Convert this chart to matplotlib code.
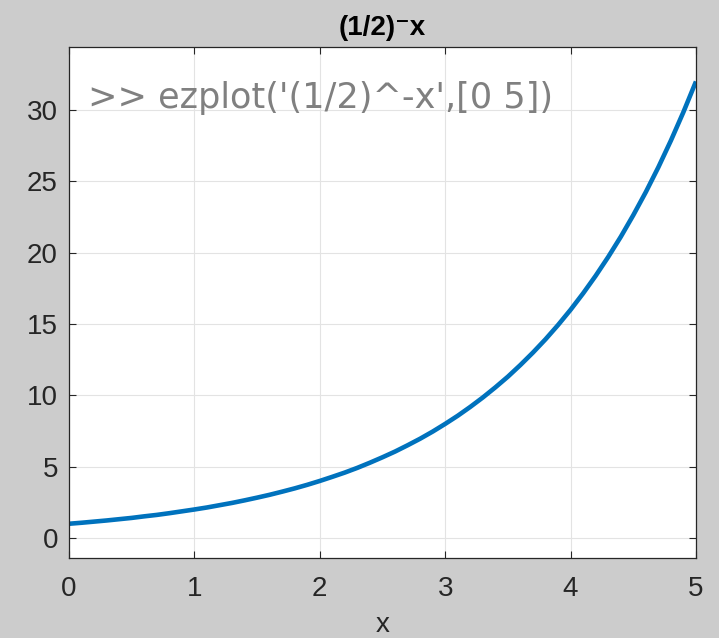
import numpy as np
import matplotlib as mpl
mpl.use('Agg')
from matplotlib import pyplot as plt

# samples of (1/2)^-x over [0 5], step 0.1
x_vals = [round(0.1 * i, 1) for i in range(51)]
y_vals = [1.00, 1.07, 1.15, 1.23, 1.32, 1.41, 1.52, 1.62, 1.74, 1.87,
          2.00, 2.14, 2.30, 2.46, 2.64, 2.83, 3.03, 3.25, 3.48, 3.73,
          4.00, 4.29, 4.59, 4.92, 5.28, 5.66, 6.06, 6.50, 6.96, 7.46,
          8.00, 8.57, 9.19, 9.85, 10.56, 11.31, 12.13, 13.00, 13.93, 14.93,
          16.00, 17.15, 18.38, 19.70, 21.11, 22.63, 24.25, 25.99, 27.86, 29.86,
          32.00]
x_ticks = [0, 1, 2, 3, 4, 5]
y_ticks = [0, 5, 10, 15, 20, 25, 30]
title = '(1/2)\u207bx'
command = ">> ezplot('(1/2)^-x',[0 5])"

plt.rcParams['font.family'] = ['Liberation Sans', 'DejaVu Sans']

fig = plt.figure(figsize=(7.19, 6.38), dpi=100, facecolor='#cccccc')
ax = fig.add_axes([0.096, 0.1254, 0.872, 0.8006])
ax.set_facecolor('white')

ax.plot(x_vals, y_vals, color='#0072BD', linewidth=3.3, solid_capstyle='butt')

ax.set_xlim(0, 5)
ax.set_ylim(-1.4, 34.4)
ax.set_xticks(x_ticks)
ax.set_yticks(y_ticks)
ax.grid(True, color='#e3e3e3', linewidth=0.8)
ax.set_axisbelow(True)
ax.tick_params(direction='in', length=5, width=0.8, colors='#262626',
               labelsize=20, top=True, right=True)
ax.tick_params(axis='x', pad=13)
ax.tick_params(axis='y', pad=8)
for s in ax.spines.values():
    s.set_color('#262626')
    s.set_linewidth(0.9)

ax.set_xlabel('x', fontsize=20, color='#262626', labelpad=7)
ax.set_title(title, fontsize=20, fontweight='bold', color='black', pad=9)

ax.text(0.03, 0.90, command, transform=ax.transAxes, fontsize=25.3,
        color='#808080', va='center', ha='left', family=['DejaVu Sans'])

fig.savefig('out.png', dpi=100, facecolor=fig.get_facecolor())
